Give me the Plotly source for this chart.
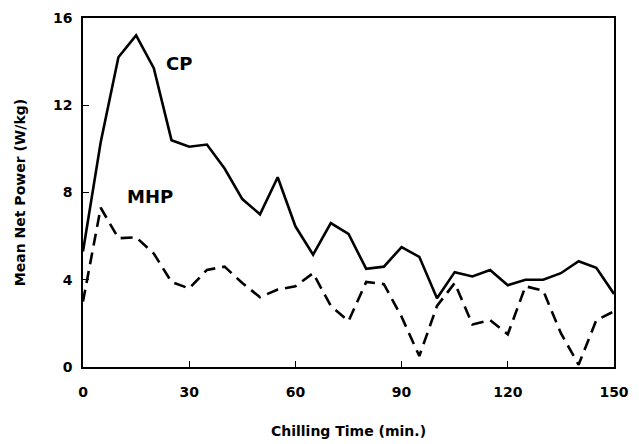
import plotly.graph_objects as go

time_min = [0, 5, 10, 15, 20, 25, 30, 35, 40, 45, 50, 55, 60, 65, 70, 75,
            80, 85, 90, 95, 100, 105, 110, 115, 120, 125, 130, 135, 140, 145, 150]
cp = [5.3, 10.3, 14.2, 15.2, 13.7, 10.4, 10.1, 10.2, 9.1, 7.7, 7.0, 8.7, 6.45, 5.15, 6.6, 6.1,
      4.5, 4.6, 5.5, 5.05, 3.15, 4.35, 4.15, 4.45, 3.75, 4.0, 4.0, 4.3, 4.85, 4.55, 3.35]
mhp = [3.0, 7.3, 5.9, 5.95, 5.2, 3.9, 3.6, 4.45, 4.6, 3.85, 3.2, 3.55, 3.7, 4.3, 2.8, 2.1,
       3.9, 3.8, 2.3, 0.5, 2.8, 3.85, 1.95, 2.15, 1.5, 3.7, 3.5, 1.55, 0.1, 2.15, 2.55]
x_ticks = [0, 30, 60, 90, 120, 150]
y_ticks = [0, 4, 8, 12, 16]

FONT = "DejaVu Sans"

fig = go.Figure()
fig.add_trace(go.Scatter(x=time_min, y=cp, mode="lines", name="CP",
                         line=dict(color="black", width=2.6), showlegend=False))
fig.add_trace(go.Scatter(x=time_min, y=mhp, mode="lines", name="MHP",
                         line=dict(color="black", width=2.6, dash="12px,7px"), showlegend=False))

fig.add_annotation(x=27, y=13.9, text="<b>CP</b>", showarrow=False,
                   font=dict(family=FONT, size=18, color="black"))
fig.add_annotation(x=19, y=7.8, text="<b>MHP</b>", showarrow=False,
                   font=dict(family=FONT, size=18, color="black"))

axis_common = dict(showline=True, linecolor="black", linewidth=1.5, mirror=True,
                   ticks="inside", ticklen=6, tickcolor="black", showgrid=False,
                   zeroline=False, automargin=False,
                   tickfont=dict(family=FONT, size=14, color="black"))

fig.update_xaxes(range=[0, 150], tickvals=x_ticks, ticktext=[f"<b>{v}</b>" for v in x_ticks],
                 ticklabelstandoff=11,
                 title=dict(text="<b>Chilling Time (min.)</b>", standoff=28,
                            font=dict(family=FONT, size=14, color="black")),
                 **axis_common)
fig.update_yaxes(range=[0, 16], tickvals=y_ticks, ticktext=[f"<b>{v}</b>" for v in y_ticks],
                 ticklabelstandoff=6,
                 title=dict(text="<b>Mean Net Power (W/kg)</b>", standoff=24,
                            font=dict(family=FONT, size=14, color="black")),
                 **axis_common)

fig.update_layout(width=639, height=444, margin=dict(l=75, r=33, t=10, b=85),
                  paper_bgcolor="white", plot_bgcolor="white")
fig.write_html("out.html")
